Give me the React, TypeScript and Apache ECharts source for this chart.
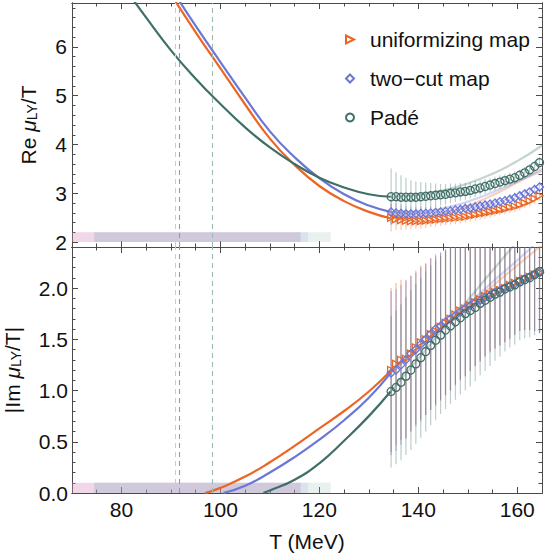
import React, { useEffect, useRef } from 'react';
import * as echarts from 'echarts';

const ORANGE = '#EC6523';
const BLUE = '#6C76D4';
const GREEN = '#3F6F68';
const FONT = "'Liberation Sans', Arial, sans-serif";

// tick values
const xMajor = [80, 100, 120, 140, 160];
const xMinor = [75, 85, 90, 95, 105, 110, 115, 125, 130, 135, 145, 150, 155];
const yTopMajor = [2, 3, 4, 5, 6];
const yTopMinor = [2.2, 2.4, 2.6, 2.8, 3.2, 3.4, 3.6, 3.8, 4.2, 4.4, 4.6, 4.8, 5.2, 5.4, 5.6, 5.8, 6.2, 6.4, 6.6, 6.8];
const yBotMajor = [0, 0.5, 1, 1.5, 2];
const yBotMinor = [0.1, 0.2, 0.3, 0.4, 0.6, 0.7, 0.8, 0.9, 1.1, 1.2, 1.3, 1.4, 1.6, 1.7, 1.8, 1.9, 2.1, 2.2, 2.3];

// data temperatures (MeV)
const tData = [134.5, 135.5, 136.5, 137.5, 138.5, 139.5, 140.5, 141.5, 142.5, 143.5, 144.5, 145.5, 146.5, 147.5, 148.5, 149.5, 150.5, 151.5, 152.5, 153.5, 154.5, 155.5, 156.5, 157.5, 158.5, 159.5, 160.5, 161.5, 162.5, 163.5, 164.5];

// Re mu_LY / T data
const reOrange = [2.50, 2.47, 2.45, 2.44, 2.43, 2.43, 2.43, 2.44, 2.45, 2.46, 2.47, 2.48, 2.49, 2.50, 2.51, 2.52, 2.54, 2.56, 2.58, 2.60, 2.62, 2.64, 2.66, 2.68, 2.71, 2.73, 2.76, 2.80, 2.84, 2.89, 2.95];
const reOrangeErr = [0.28, 0.22, 0.20, 0.18, 0.17, 0.16, 0.15, 0.15, 0.14, 0.14, 0.14, 0.13, 0.13, 0.13, 0.13, 0.12, 0.12, 0.12, 0.12, 0.12, 0.12, 0.11, 0.11, 0.11, 0.11, 0.11, 0.11, 0.10, 0.10, 0.10, 0.10];
const reBlue = [2.62, 2.60, 2.59, 2.58, 2.58, 2.58, 2.59, 2.59, 2.60, 2.61, 2.62, 2.63, 2.64, 2.66, 2.67, 2.69, 2.70, 2.72, 2.74, 2.76, 2.78, 2.80, 2.83, 2.85, 2.88, 2.91, 2.95, 2.99, 3.03, 3.08, 3.13];
const reBlueErr = [0.25, 0.20, 0.18, 0.16, 0.15, 0.14, 0.14, 0.13, 0.13, 0.12, 0.12, 0.12, 0.12, 0.11, 0.11, 0.11, 0.11, 0.11, 0.11, 0.10, 0.10, 0.10, 0.10, 0.10, 0.10, 0.10, 0.10, 0.10, 0.10, 0.10, 0.10];
const reGreen = [2.93, 2.93, 2.92, 2.92, 2.92, 2.92, 2.93, 2.94, 2.95, 2.96, 2.97, 2.98, 3.00, 3.01, 3.03, 3.04, 3.06, 3.09, 3.11, 3.14, 3.17, 3.20, 3.23, 3.26, 3.29, 3.32, 3.37, 3.42, 3.48, 3.55, 3.63];
const reGreenErr = [0.58, 0.50, 0.45, 0.40, 0.35, 0.32, 0.30, 0.28, 0.26, 0.24, 0.22, 0.21, 0.20, 0.19, 0.18, 0.17, 0.16, 0.16, 0.15, 0.15, 0.14, 0.14, 0.14, 0.13, 0.13, 0.13, 0.12, 0.12, 0.12, 0.12, 0.12];

// |Im mu_LY / T| data
const imOrange = [1.20, 1.26, 1.30, 1.31, 1.36, 1.42, 1.47, 1.50, 1.55, 1.58, 1.62, 1.66, 1.70, 1.74, 1.78, 1.80, 1.83, 1.86, 1.89, 1.92, 1.94, 1.96, 1.98, 2.00, 2.03, 2.05, 2.07, 2.09, 2.11, 2.13, 2.15];
const imBlue = [1.17, 1.20, 1.25, 1.30, 1.36, 1.40, 1.45, 1.50, 1.55, 1.60, 1.63, 1.67, 1.70, 1.73, 1.77, 1.80, 1.83, 1.86, 1.88, 1.91, 1.93, 1.96, 1.98, 2.00, 2.02, 2.04, 2.07, 2.09, 2.11, 2.13, 2.15];
const imOBErr = [0.80, 0.79, 0.78, 0.77, 0.76, 0.75, 0.75, 0.74, 0.74, 0.73, 0.72, 0.71, 0.70, 0.68, 0.67, 0.66, 0.64, 0.62, 0.60, 0.58, 0.56, 0.55, 0.54, 0.53, 0.52, 0.50, 0.49, 0.50, 0.52, 0.55, 0.59];
const imGreen = [0.99, 1.03, 1.08, 1.14, 1.20, 1.26, 1.32, 1.38, 1.44, 1.49, 1.54, 1.59, 1.63, 1.67, 1.71, 1.75, 1.78, 1.81, 1.85, 1.88, 1.91, 1.94, 1.96, 1.99, 2.01, 2.03, 2.06, 2.08, 2.10, 2.13, 2.16];
const imGreenErr = [0.74, 0.75, 0.76, 0.77, 0.78, 0.78, 0.78, 0.78, 0.78, 0.78, 0.77, 0.77, 0.76, 0.76, 0.75, 0.75, 0.74, 0.72, 0.70, 0.69, 0.67, 0.65, 0.63, 0.61, 0.59, 0.58, 0.57, 0.57, 0.58, 0.59, 0.60];

// fitted curves (Re)
const fitReOrangeT = [90, 95, 100, 105, 110, 115, 120, 125, 130, 134.4];
const fitReOrange = [7.08, 6.30, 5.56, 4.82, 4.12, 3.58, 3.15, 2.84, 2.62, 2.49];
const fitReBlueT = [91, 95, 100, 105, 110, 115, 120, 125, 130, 134.4];
const fitReBlue = [7.05, 6.43, 5.69, 4.96, 4.27, 3.74, 3.31, 2.98, 2.75, 2.62];
const fitReGreenT = [80, 85, 90, 95, 100, 105, 110, 115, 120, 125, 130, 134.4];
const fitReGreen = [7.30, 6.60, 5.93, 5.35, 4.83, 4.35, 3.94, 3.60, 3.32, 3.12, 2.98, 2.93];
// faint extrapolations inside the data range
const extT = [134.4, 140, 145, 150, 155, 160, 165];
const extReOrange = [2.49, 2.50, 2.58, 2.74, 2.96, 3.22, 3.50];
const extReBlue = [2.62, 2.62, 2.69, 2.83, 3.02, 3.24, 3.46];
const extReGreen = [2.93, 2.97, 3.06, 3.20, 3.40, 3.66, 3.98];

// fitted curves (Im)
const fitImOrangeT = [96.9, 100, 105, 110, 115, 120, 125, 130, 134.4];
const fitImOrange = [0, 0.05, 0.16, 0.30, 0.46, 0.63, 0.80, 0.99, 1.19];
const fitImBlueT = [100.6, 105, 110, 115, 120, 125, 130, 134.4];
const fitImBlue = [0, 0.07, 0.20, 0.35, 0.52, 0.71, 0.93, 1.17];
const fitImGreenT = [108.7, 110, 115, 120, 125, 130, 134.4];
const fitImGreen = [0, 0.025, 0.13, 0.29, 0.51, 0.75, 0.99];
const extImOrange = [1.19, 1.41, 1.62, 1.82, 2.02, 2.22, 2.42];
const extImBlue = [1.17, 1.41, 1.63, 1.84, 2.06, 2.27, 2.49];
const extImGreen = [0.99, 1.31, 1.60, 1.88, 2.17, 2.45, 2.70];

// vertical dashed markers (MeV)
const vlines = [
  { t: 90.95, color: '#F2B8CC' },
  { t: 91.76, color: '#8D92E0' },
  { t: 98.3, color: '#9DBAB3' },
];
// horizontal ranges (MeV)
const bands = [
  { from: 70, to: 116.2, color: 'rgba(215,140,190,0.35)' },
  { from: 74.5, to: 117.7, color: 'rgba(130,140,220,0.15)' },
  { from: 74.5, to: 122.3, color: 'rgba(150,190,180,0.22)' },
];

const TRI = 'path://M0,0L10,5L0,10Z';

const zip = (xs: number[], ys: number[]) => xs.map((x, i) => [x, ys[i]]);
const rgba = (hex: string, a: number) => {
  const n = parseInt(hex.slice(1), 16);
  return `rgba(${(n >> 16) & 255},${(n >> 8) & 255},${n & 255},${a})`;
};

export default function App() {
  const ref = useRef<HTMLDivElement>(null);
  useEffect(() => {
    const chart = echarts.init(ref.current!, undefined, { renderer: 'svg' });
    const lineC = '#4a4a4a';
    const labelStyle = { show: true, color: '#111', fontSize: 21, fontFamily: FONT };

    const mkAxis = (gridIndex: number, position: string, min: number, max: number, ticks: number[], len: number, label: any = null, extra: any = {}) => ({
      type: 'value', gridIndex, position, min, max,
      axisLine: { show: true, onZero: false, lineStyle: { color: lineC, width: 1 } },
      axisTick: { show: true, inside: true, length: len, customValues: ticks, lineStyle: { color: lineC } },
      splitLine: { show: false },
      axisLabel: label ? { ...label, customValues: ticks } : { show: false },
      ...extra,
    });

    const xAxes = [
      mkAxis(0, 'bottom', 70, 165, xMajor, 6),
      mkAxis(0, 'bottom', 70, 165, xMinor, 3.5),
      mkAxis(0, 'top', 70, 165, xMajor, 6),
      mkAxis(0, 'top', 70, 165, xMinor, 3.5),
      mkAxis(1, 'bottom', 70, 165, xMajor, 6, { ...labelStyle, margin: 6, formatter: (v: number) => String(v) }, {
        name: 'T (MeV)', nameLocation: 'middle', nameGap: 38,
        nameTextStyle: { color: '#111', fontSize: 21, fontFamily: FONT },
      }),
      mkAxis(1, 'bottom', 70, 165, xMinor, 3.5),
      mkAxis(1, 'top', 70, 165, xMajor, 6),
      mkAxis(1, 'top', 70, 165, xMinor, 3.5),
    ];

    const richName = {
      a: { fontSize: 21, fontFamily: FONT, color: '#111' },
      m: { fontSize: 21, fontFamily: FONT, fontStyle: 'italic', color: '#111' },
      s: { fontSize: 14, fontFamily: FONT, color: '#111', padding: [8, 0, 0, 0] },
    };
    const yAxes = [
      mkAxis(0, 'left', 1.9, 6.9, yTopMajor, 6, { ...labelStyle, margin: 5, formatter: (v: number) => String(v) }, {
        name: '{a|Re }{m|μ}{s|LY}{a|/T}', nameLocation: 'middle', nameGap: 33, nameRotate: 90,
        nameTextStyle: { rich: richName },
      }),
      mkAxis(0, 'left', 1.9, 6.9, yTopMinor, 3.5),
      mkAxis(0, 'right', 1.9, 6.9, yTopMajor, 6),
      mkAxis(0, 'right', 1.9, 6.9, yTopMinor, 3.5),
      mkAxis(1, 'left', 0, 2.4, yBotMajor, 6, { ...labelStyle, margin: 4, formatter: (v: number) => v.toFixed(1) }, {
        name: '{a||Im }{m|μ}{s|LY}{a|/T|}', nameLocation: 'middle', nameGap: 49, nameRotate: 90,
        nameTextStyle: { rich: richName },
      }),
      mkAxis(1, 'left', 0, 2.4, yBotMinor, 3.5),
      mkAxis(1, 'right', 0, 2.4, yBotMajor, 6),
      mkAxis(1, 'right', 0, 2.4, yBotMinor, 3.5),
    ];

    const ax = (g: number) => ({ xAxisIndex: g * 4, yAxisIndex: g * 4 });

    const errSeries = (g: number, vals: number[], errs: number[], color: string) => ({
      type: 'custom', ...ax(g), silent: true, clip: true, z: 2,
      data: tData.map((t, i) => [t, vals[i] - errs[i], vals[i] + errs[i]]),
      encode: { x: 0, y: [1, 2] },
      renderItem: (_p: any, api: any) => {
        const a = api.coord([api.value(0), api.value(1)]);
        const b = api.coord([api.value(0), api.value(2)]);
        return { type: 'line', shape: { x1: a[0], y1: a[1], x2: b[0], y2: b[1] }, style: { stroke: color, lineWidth: 1.2 } };
      },
    });
    const fitSeries = (g: number, xs: number[], ys: number[], color: string, opacity: number, extra: any = {}) => ({
      type: 'line', ...ax(g), data: zip(xs, ys), showSymbol: false, silent: true,
      smooth: 0.5, clip: true, z: 3,
      lineStyle: { color, width: 2.2, opacity },
      ...extra,
    });
    const scatter = (g: number, name: string, vals: number[], color: string, symbol: string, size: number) => ({
      type: 'scatter', name, ...ax(g), data: zip(tData, vals), silent: true, z: 4,
      symbol, symbolSize: size,
      itemStyle: { color: 'rgba(255,255,255,0)', borderColor: color, borderWidth: 1.3, opacity: 1 },
    });
    const marks = (g: number) => ({
      markLine: {
        silent: true, symbol: 'none', label: { show: false },
        data: vlines.map((v) => ({ xAxis: v.t, lineStyle: { color: v.color, type: [5, 4], width: 1.1 } })),
      },
      markArea: {
        silent: true,
        data: bands.map((b) => [
          { xAxis: b.from, yAxis: g === 0 ? 2.0 : 0, itemStyle: { color: b.color } },
          { xAxis: b.to, yAxis: g === 0 ? 2.2 : 0.1 },
        ]),
      },
    });

    const series: any[] = [
      errSeries(0, reOrange, reOrangeErr, rgba(ORANGE, 0.35)),
      errSeries(0, reBlue, reBlueErr, rgba(BLUE, 0.35)),
      errSeries(0, reGreen, reGreenErr, rgba(GREEN, 0.35)),
      fitSeries(0, extT, extReOrange, ORANGE, 0.3),
      fitSeries(0, extT, extReBlue, BLUE, 0.3),
      fitSeries(0, extT, extReGreen, GREEN, 0.3),
      fitSeries(0, fitReOrangeT, fitReOrange, ORANGE, 1, marks(0)),
      fitSeries(0, fitReBlueT, fitReBlue, BLUE, 1),
      fitSeries(0, fitReGreenT, fitReGreen, GREEN, 1),
      scatter(0, 'uniformizing map', reOrange, ORANGE, TRI, 7),
      scatter(0, 'two\u2212cut map', reBlue, BLUE, 'diamond', 8),
      scatter(0, 'Padé', reGreen, GREEN, 'circle', 8),
      errSeries(1, imOrange, imOBErr, rgba(ORANGE, 0.45)),
      errSeries(1, imBlue, imOBErr, rgba(BLUE, 0.45)),
      errSeries(1, imGreen, imGreenErr, rgba(GREEN, 0.35)),
      fitSeries(1, extT, extImOrange, ORANGE, 0.3),
      fitSeries(1, extT, extImBlue, BLUE, 0.3),
      fitSeries(1, extT, extImGreen, GREEN, 0.3),
      fitSeries(1, fitImOrangeT, fitImOrange, ORANGE, 1, marks(1)),
      fitSeries(1, fitImBlueT, fitImBlue, BLUE, 1),
      fitSeries(1, fitImGreenT, fitImGreen, GREEN, 1),
      scatter(1, 'uniformizing map', imOrange, ORANGE, TRI, 7),
      scatter(1, 'two\u2212cut map', imBlue, BLUE, 'diamond', 8),
      scatter(1, 'Padé', imGreen, GREEN, 'circle', 8),
    ];

    chart.setOption({
      animation: false,
      backgroundColor: '#fff',
      textStyle: { fontFamily: FONT },
      grid: [
        { left: 72, top: 3, width: 470, height: 244, outerBoundsMode: 'none', containLabel: false },
        { left: 72, top: 247, width: 470, height: 246, outerBoundsMode: 'none', containLabel: false },
      ],
      xAxis: xAxes,
      yAxis: yAxes,
      legend: {
        orient: 'vertical', left: 340, top: 24, itemGap: 18, itemWidth: 8, itemHeight: 8,
        selectedMode: false,
        data: ['uniformizing map', 'two\u2212cut map', 'Padé'],
        textStyle: { fontSize: 21, fontFamily: FONT, color: '#111', lineHeight: 21, padding: [0, 0, 0, 11] },
      },
      series,
    });
    return () => chart.dispose();
  }, []);
  return <div ref={ref} style={{ position: 'fixed', left: 0, top: 0, width: 556, height: 556 }} />;
}
